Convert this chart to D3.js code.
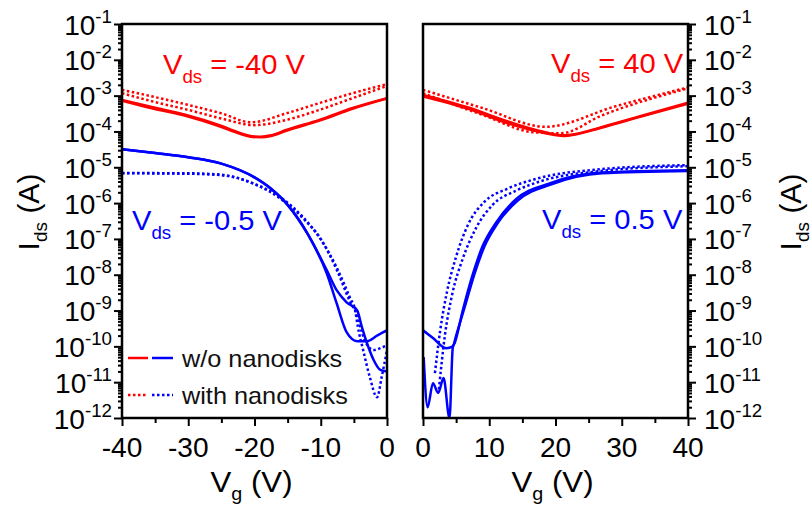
<!DOCTYPE html>
<html>
<head>
<meta charset="utf-8">
<script src="https://cdn.jsdelivr.net/npm/d3@7"></script>
<style>
  body { margin: 0; background: #fff; }
  text { font-family: 'Liberation Sans', Arial, sans-serif; white-space: pre; }
</style>
</head>
<body>
<div id="chart"></div>
<script>
// [Vg (V), Ids (A)]
// left panel: Vds = -40 V (red) and Vds = -0.5 V (blue)
const leftRedWoA = [[-40, 7.6e-4], [-35.5, 4.8e-4], [-30.3, 2.9e-4], [-25.3, 1.5e-4], [-22.3, 9.2e-5], [-20.3, 7.3e-5], [-19, 7.1e-5], [-17.5, 7.8e-5], [-15.2, 1.1e-4], [-10.2, 2.1e-4], [-5.2, 4.5e-4], [0, 8.5e-4]];
const leftRedWoB = [[-40, 7.2e-4], [-35.5, 4.4e-4], [-30.3, 2.7e-4], [-25.3, 1.4e-4], [-22.3, 8.7e-5], [-20.3, 7.0e-5], [-19, 6.9e-5], [-17.5, 7.5e-5], [-15.2, 1.05e-4], [-10.2, 2.0e-4], [-5.2, 4.3e-4], [0, 8.3e-4]];
const leftRedWithA = [[-40, 1.45e-3], [-35, 9.1e-4], [-30, 5.5e-4], [-25, 3.2e-4], [-20.5, 1.8e-4], [-15.2, 3.2e-4], [-10.2, 6.2e-4], [-5.2, 1.17e-3], [0, 2.1e-3]];
const leftRedWithB = [[-40, 1.17e-3], [-35, 6.6e-4], [-30, 4.0e-4], [-25, 2.3e-4], [-20, 1.5e-4], [-15.2, 2.1e-4], [-10.2, 4.0e-4], [-5.2, 8.5e-4], [0, 1.86e-3]];
const leftBlueWoA = [[-40, 3.2e-5], [-35, 2.5e-5], [-30, 1.9e-5], [-25, 1.26e-5], [-20, 5.2e-6], [-17.5, 2.5e-6], [-15, 8.9e-7], [-12, 1.4e-7], [-9.1, 1.1e-8], [-7.6, 1.6e-9], [-6.1, 2.5e-10], [-4.5, 1.4e-10], [-3, 1.4e-10], [-1.5, 2.0e-10], [0, 2.8e-10]];
const leftBlueWoB = [[-40, 3.2e-5], [-35, 2.5e-5], [-30, 1.9e-5], [-25, 1.26e-5], [-20, 5.2e-6], [-17.5, 2.5e-6], [-15, 8.9e-7], [-12, 1.4e-7], [-9.1, 1.35e-8], [-7.6, 3.7e-9], [-6.1, 1.7e-9], [-4.5, 1.0e-9], [-3.8, 3.5e-10], [-3, 1.2e-10], [-2, 4.1e-11], [-1, 2.2e-11], [0, 2.0e-11]];
const leftBlueWithA = [[-40, 6.9e-6], [-30, 6.8e-6], [-25, 6.2e-6], [-20.3, 3.6e-6], [-16.2, 1.5e-6], [-12.7, 4.1e-7], [-10.2, 1.1e-7], [-7.6, 1.6e-8], [-5.6, 2.3e-9], [-4.8, 1.0e-9], [-4.4, 3.5e-10], [-3.6, 7.9e-11], [-2.6, 1.4e-11], [-1.5, 3.8e-12], [-0.8, 1.4e-11], [0, 7.9e-11]];
const leftBlueWithB = [[-40, 6.8e-6], [-30, 6.6e-6], [-25, 6.0e-6], [-20, 3.4e-6], [-16, 1.3e-6], [-12.5, 3.5e-7], [-10, 1.0e-7], [-7.5, 1.26e-8], [-5.6, 1.8e-9], [-4.6, 7.9e-10], [-3.8, 2.5e-10], [-3, 1.1e-10], [-2, 7.9e-11], [-1, 8.9e-11], [0, 1.07e-10]];

// right panel: Vds = 40 V (red) and Vds = 0.5 V (blue)
const rightRedWoA = [[0, 1.05e-3], [6.6, 4.8e-4], [13.2, 1.8e-4], [18, 1.0e-4], [21.2, 7.8e-5], [23, 8.5e-5], [26.8, 1.3e-4], [32.9, 2.7e-4], [40, 6.3e-4]];
const rightRedWoB = [[0, 9.5e-4], [6.6, 4.4e-4], [13.2, 1.6e-4], [18, 9.3e-5], [21.2, 7.5e-5], [23, 8.2e-5], [26.8, 1.25e-4], [32.9, 2.6e-4], [40, 6.0e-4]];
const rightRedWithA = [[0, 1.45e-3], [9, 4.5e-4], [18.5, 1.35e-4], [29, 5.0e-4], [40, 1.7e-3]];
const rightRedWithB = [[0, 1.17e-3], [9, 2.9e-4], [16.7, 9.5e-5], [20.8, 8.9e-5], [27, 2.8e-4], [40, 1.6e-3]];
const rightBlueWoA = [[0.1, 5.0e-11], [0.7, 2.0e-12], [1.5, 9.3e-12], [2.3, 5.0e-12], [3.1, 1.3e-11], [4, 1.0e-12], [4.5, 9.5e-11], [4.8, 1.26e-10], [6, 1.0e-9], [7.5, 1.0e-8], [9, 6.3e-8], [11, 2.8e-7], [14, 1.26e-6], [19, 3.5e-6], [27, 7.1e-6], [40, 8.3e-6]];
const rightBlueWoB = [[0, 2.8e-10], [1.5, 1.7e-10], [3.5, 8.9e-11], [4.5, 1.0e-10], [5, 2.0e-10], [6.3, 1.26e-9], [7.8, 1.1e-8], [9.3, 6.3e-8], [11.3, 2.8e-7], [14.3, 1.17e-6], [19.5, 3.4e-6], [27, 6.8e-6], [40, 7.9e-6]];
const rightBlueWithA = [[1.8, 1.8e-11], [2.6, 2.8e-10], [3.6, 3.2e-9], [5, 3.2e-8], [6.8, 2.5e-7], [9.3, 1.1e-6], [12.7, 2.5e-6], [17, 4.7e-6], [27, 8.9e-6], [40, 1.15e-5]];
const rightBlueWithB = [[2.4, 6.3e-12], [3.3, 2.0e-10], [4.4, 2.8e-9], [6, 2.8e-8], [8, 2.0e-7], [10.5, 8.9e-7], [14, 2.2e-6], [18, 4.2e-6], [27, 7.9e-6], [40, 1.07e-5]];

const yExponents = [-12, -11, -10, -9, -8, -7, -6, -5, -4, -3, -2, -1];
const leftXTicks = [-40, -30, -20, -10, 0];
const rightXTicks = [0, 10, 20, 30, 40];
const legendLabels = ['w/o nanodisks', 'with nanodisks'];

const RED = '#ff0000';
const BLUE = '#0000ff';
const SX = 1.04; // lettering in the picture is a touch wider than plain Arial

const W = 812, H = 508;
const TOP = 24, BOTTOM = 418;

const svg = d3.select('#chart').append('svg').attr('width', W).attr('height', H);

const y = d3.scaleLog().domain([1e-12, 1e-1]).range([BOTTOM, TOP]);

const richText = (x, yPos, parts, o) => {
  const g = svg.append('g')
    .attr('transform', `translate(${x},${yPos}) rotate(${o.rotate || 0}) scale(${o.sx || 1},1)`);
  const t = g.append('text')
    .attr('text-anchor', o.anchor || 'start')
    .attr('fill', o.color || '#000')
    .attr('font-size', o.size);
  let cur = 0;
  parts.forEach(([s, kind]) => {
    const off = kind === 'sub' ? o.sub : kind === 'sup' ? -o.sup : 0;
    t.append('tspan')
      .attr('dy', off - cur)
      .attr('font-size', kind ? o.small : o.size)
      .text(s);
    cur = off;
  });
  return g;
};

const panels = [
  {
    id: 'l', x0: 122, x1: 387, domain: [-40, 0], xTicks: leftXTicks, side: 'left',
    series: [
      [leftRedWoA, RED, false], [leftRedWoB, RED, false],
      [leftRedWithA, RED, true], [leftRedWithB, RED, true],
      [leftBlueWoA, BLUE, false], [leftBlueWoB, BLUE, false],
      [leftBlueWithA, BLUE, true], [leftBlueWithB, BLUE, true]
    ]
  },
  {
    id: 'r', x0: 423, x1: 688, domain: [0, 40], xTicks: rightXTicks, side: 'right',
    series: [
      [rightRedWoA, RED, false], [rightRedWoB, RED, false],
      [rightRedWithA, RED, true], [rightRedWithB, RED, true],
      [rightBlueWoA, BLUE, false], [rightBlueWoB, BLUE, false],
      [rightBlueWithA, BLUE, true], [rightBlueWithB, BLUE, true]
    ]
  }
];

const majors = yExponents.map(e => Math.pow(10, e));
const minors = [];
yExponents.slice(0, -1).forEach(e => {
  d3.range(2, 10).forEach(k => minors.push(k * Math.pow(10, e)));
});

panels.forEach(p => {
  const x = d3.scaleLinear().domain(p.domain).range([p.x0, p.x1]);

  svg.append('clipPath').attr('id', `clip-${p.id}`)
    .append('rect')
    .attr('x', p.x0).attr('y', TOP)
    .attr('width', p.x1 - p.x0).attr('height', BOTTOM - TOP);

  const line = d3.line()
    .x(d => x(d[0]))
    .y(d => y(d[1]))
    .curve(d3.curveMonotoneX);

  svg.append('g')
    .attr('clip-path', `url(#clip-${p.id})`)
    .selectAll('path')
    .data(p.series)
    .join('path')
    .attr('d', d => line(d[0]))
    .attr('fill', 'none')
    .attr('stroke', d => d[1])
    .attr('stroke-width', 2.5)
    .attr('stroke-dasharray', d => (d[2] ? '2.5,2.5' : null))
    .attr('stroke-linejoin', 'round');

  // y ticks, outside on the outer edge
  const axisX = p.side === 'left' ? p.x0 : p.x1;
  const mkY = p.side === 'left' ? d3.axisLeft : d3.axisRight;
  [[majors, 8], [minors, 4]].forEach(([vals, size]) => {
    svg.append('g')
      .attr('transform', `translate(${axisX},0)`)
      .call(mkY(y).tickValues(vals).tickSize(size).tickFormat(''))
      .call(g => g.select('.domain').remove())
      .call(g => g.selectAll('line').attr('stroke', '#000').attr('stroke-width', 2));
  });

  yExponents.forEach(e => {
    const lx = p.side === 'left' ? 112 : 704;
    richText(lx, y(Math.pow(10, e)) + 10.5, [['10'], [String(e), 'sup']], {
      size: 27, small: 18, sup: 12, anchor: p.side === 'left' ? 'end' : 'start', sx: SX
    });
  });

  // x ticks
  const minorX = p.xTicks.slice(0, -1).map(v => v + 5);
  [[p.xTicks, 8], [minorX, 5]].forEach(([vals, size]) => {
    svg.append('g')
      .attr('transform', `translate(0,${BOTTOM})`)
      .call(d3.axisBottom(x).tickValues(vals).tickSize(size).tickFormat(''))
      .call(g => g.select('.domain').remove())
      .call(g => g.selectAll('line').attr('stroke', '#000').attr('stroke-width', 2));
  });

  p.xTicks.forEach(v => {
    richText(x(v), 457, [[String(v)]], { size: 27, anchor: 'middle', sx: SX });
  });

  richText((p.x0 + p.x1) / 2 - 3, 492, [['V'], ['g', 'sub'], [' (V)']], {
    size: 30, small: 19, sub: 8, anchor: 'middle', sx: SX
  });

  // frame
  svg.append('rect')
    .attr('x', p.x0).attr('y', TOP)
    .attr('width', p.x1 - p.x0).attr('height', BOTTOM - TOP)
    .attr('fill', 'none')
    .attr('stroke', '#000')
    .attr('stroke-width', 2.5);
});

// y titles on both sides
[[39, 212], [801, 212]].forEach(([tx, ty]) => {
  richText(tx, ty, [['I'], ['ds', 'sub'], [' (A)']], {
    size: 30, small: 19, sub: 8, anchor: 'middle', rotate: -90
  });
});

// condition labels
const ann = (x, yPos, vds, color) =>
  richText(x, yPos, [['V'], ['ds', 'sub'], [` = ${vds} V`]], {
    size: 28, small: 18, sub: 9, color, sx: SX
  });
ann(163, 74, '-40', RED);
ann(551, 73, '40', RED);
ann(132, 230, '-0.5', BLUE);
ann(542, 229, '0.5', BLUE);

// legend
legendLabels.forEach((lab, i) => {
  const ly = 358 + i * 37;
  [[128, 148, RED], [152, 173, BLUE]].forEach(([a, b, c]) => {
    svg.append('line')
      .attr('x1', a).attr('x2', b).attr('y1', ly).attr('y2', ly)
      .attr('stroke', c).attr('stroke-width', 2.5)
      .attr('stroke-dasharray', i ? '2.5,2.5' : null);
  });
  richText(182, ly + 9, [[lab]], { size: 23, color: '#111', sx: 1.1 });
});
</script>
</body>
</html>
